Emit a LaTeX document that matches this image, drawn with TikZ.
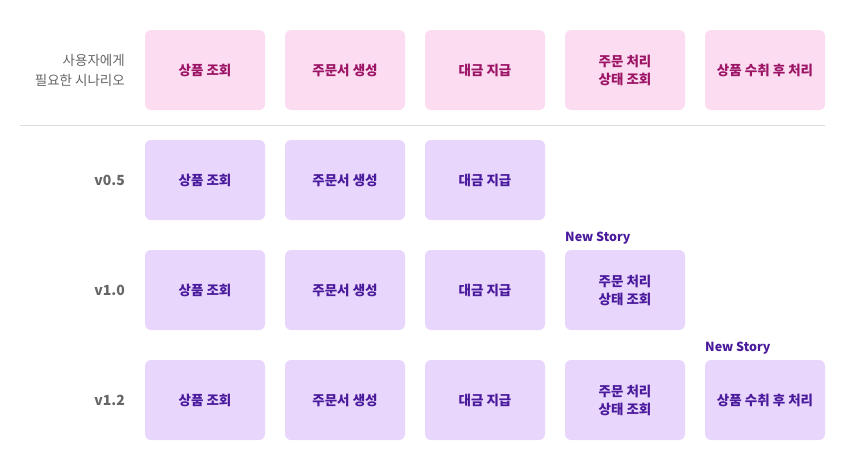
\documentclass[tikz,border=0pt]{standalone}
\usepackage{fontspec}
\setmainfont{Noto Sans CJK KR}
\usetikzlibrary{positioning}

\definecolor{scenfill}{HTML}{FCDCF0}
\definecolor{scentext}{HTML}{9C1466}
\definecolor{verfill}{HTML}{E8D6FC}
\definecolor{vertext}{HTML}{4A1A9C}
\definecolor{labgray}{HTML}{666666}
\definecolor{rulegray}{HTML}{DCDCDC}

\tikzset{
  card/.style={rounded corners=6pt, minimum width=120pt, minimum height=80pt,
    align=center, font=\fontsize{13.5}{18}\selectfont\bfseries, inner sep=0pt, outer sep=0pt},
  scen/.style={card, fill=scenfill, text=scentext},
  ver/.style={card, fill=verfill, text=vertext},
  rowlabel/.style={anchor=east, align=right, text=labgray, inner sep=0pt},
  newstory/.style={anchor=south west, inner sep=0pt, text=vertext,
    font=\fontsize{12.5}{15}\selectfont\bfseries}
}

\begin{document}
\begin{tikzpicture}[x=1pt, y=-1pt]
  \useasboundingbox (0,0) rectangle (864,471);

  % scenario row
  \node[scen] (s1) at (205,70) {상품 조회};
  \node[scen, right=20pt of s1] (s2) {주문서 생성};
  \node[scen, right=20pt of s2] (s3) {대금 지급};
  \node[scen, right=20pt of s3] (s4) {주문 처리\\상태 조회};
  \node[scen, right=20pt of s4] (s5) {상품 수취 후 처리};
  \node[rowlabel, font=\fontsize{13.5}{20}\selectfont] (lscen) at (125,70) {사용자에게\\필요한 시나리오};

  \coordinate (rl) at (20,125);
  \coordinate (rr) at (825,125);
  \draw[rulegray, line width=1pt] (rl) -- (rr);

  % v0.5
  \node[ver] (a1) at (205,180) {상품 조회};
  \node[ver, right=20pt of a1] (a2) {주문서 생성};
  \node[ver, right=20pt of a2] (a3) {대금 지급};
  \node[rowlabel, font=\fontsize{14}{16}\selectfont\bfseries] (la) at (125,180) {v0.5};

  % v1.0
  \node[ver] (b1) at (205,290) {상품 조회};
  \node[ver, right=20pt of b1] (b2) {주문서 생성};
  \node[ver, right=20pt of b2] (b3) {대금 지급};
  \node[ver, right=20pt of b3] (b4) {주문 처리\\상태 조회};
  \node[rowlabel, font=\fontsize{14}{16}\selectfont\bfseries] (lb) at (125,290) {v1.0};
  \node[newstory] (nb) at ([yshift=6pt]b4.north west) {New Story};

  % v1.2
  \node[ver] (c1) at (205,400) {상품 조회};
  \node[ver, right=20pt of c1] (c2) {주문서 생성};
  \node[ver, right=20pt of c2] (c3) {대금 지급};
  \node[ver, right=20pt of c3] (c4) {주문 처리\\상태 조회};
  \node[ver, right=20pt of c4] (c5) {상품 수취 후 처리};
  \node[rowlabel, font=\fontsize{14}{16}\selectfont\bfseries] (lc) at (125,400) {v1.2};
  \node[newstory] (nc) at ([yshift=6pt]c5.north west) {New Story};
\end{tikzpicture}
\end{document}
